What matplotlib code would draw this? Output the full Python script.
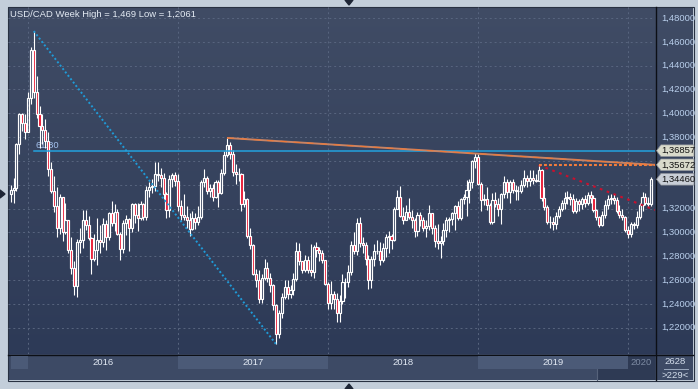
import matplotlib
matplotlib.use("Agg")
import matplotlib.pyplot as plt
import numpy as np
from matplotlib import transforms
from matplotlib.colors import LinearSegmentedColormap
from matplotlib.patches import Polygon, Rectangle

plt.rcParams["font.family"] = ["Liberation Sans", "DejaVu Sans"]

# ---- weekly USD/CAD candles, week of 2015-11-23 .. 2020-02-24 ----
first_open = 1.3320
close = [
    # 2015
    1.3355, 1.3370, 1.3740, 1.3990, 1.3920, 1.3840,
    # 2016
    1.4130, 1.4535, 1.4180, 1.3990, 1.3890, 1.3860, 1.3770, 1.3530, 1.3350, 1.3220,
    1.3040, 1.3300, 1.3000, 1.3100, 1.2850, 1.2700, 1.2550, 1.2920, 1.2940, 1.3100,
    1.3060, 1.2950, 1.2780, 1.2850, 1.2940, 1.2920, 1.3070, 1.2960, 1.3160, 1.3080,
    1.3170, 1.2990, 1.2860, 1.3080, 1.3110, 1.3040, 1.3240, 1.3150, 1.3120, 1.3240,
    1.3130, 1.3360, 1.3380, 1.3390, 1.3490, 1.3480, 1.3460, 1.3320, 1.3190, 1.3450,
    1.3480, 1.3430,
    # 2017
    1.3220, 1.3150, 1.3130, 1.3100, 1.3030, 1.3120, 1.3090, 1.3130, 1.3420, 1.3460,
    1.3350, 1.3370, 1.3300, 1.3420, 1.3330, 1.3500, 1.3650, 1.3730, 1.3660, 1.3510,
    1.3490, 1.3490, 1.3240, 1.3280, 1.2970, 1.2890, 1.2650, 1.2600, 1.2440, 1.2620,
    1.2700, 1.2620, 1.2560, 1.2390, 1.2150, 1.2320, 1.2460, 1.2540, 1.2480, 1.2520,
    1.2610, 1.2840, 1.2760, 1.2680, 1.2770, 1.2680, 1.2670, 1.2880, 1.2850, 1.2830,
    1.2770, 1.2570,
    # 2018
    1.2410, 1.2480, 1.2440, 1.2320, 1.2420, 1.2580, 1.2580, 1.2670, 1.2890, 1.2840,
    1.3080, 1.2910, 1.2890, 1.2780, 1.2600, 1.2780, 1.2840, 1.2840, 1.2770, 1.2870,
    1.2960, 1.2970, 1.2940, 1.3200, 1.3300, 1.3140, 1.3100, 1.3170, 1.3130, 1.3100,
    1.3010, 1.3150, 1.3100, 1.3040, 1.3050, 1.3160, 1.3040, 1.2930, 1.2910, 1.2930,
    1.3020, 1.3100, 1.3110, 1.3160, 1.3220, 1.3120, 1.3280, 1.3300, 1.3360, 1.3420,
    1.3600, 1.3630,
    # 2019
    1.3410, 1.3270, 1.3280, 1.3230, 1.3090, 1.3270, 1.3240, 1.3200, 1.3320, 1.3420,
    1.3340, 1.3420, 1.3360, 1.3350, 1.3350, 1.3400, 1.3460, 1.3430, 1.3460, 1.3440,
    1.3430, 1.3520, 1.3290, 1.3210, 1.3090, 1.3090, 1.3070, 1.3140, 1.3200, 1.3250,
    1.3290, 1.3300, 1.3280, 1.3180, 1.3260, 1.3240, 1.3280, 1.3250, 1.3310, 1.3290,
    1.3190, 1.3130, 1.3060, 1.3150, 1.3230, 1.3280, 1.3290, 1.3270, 1.3180, 1.3150,
    1.3130, 1.3020,
    # 2020
    1.2990, 1.3070, 1.3060, 1.3130, 1.3230, 1.3300, 1.3250, 1.3240, 1.3446,
]
high = [
    1.3400, 1.3460, 1.3750, 1.4005, 1.4000, 1.3990,
    1.4180, 1.4560, 1.4690, 1.4310, 1.4060, 1.3990, 1.3950, 1.3840, 1.3590, 1.3470,
    1.3380, 1.3320, 1.3300, 1.3250, 1.3100, 1.2960, 1.2760, 1.2945, 1.3040, 1.3190,
    1.3190, 1.3140, 1.2960, 1.2990, 1.3120, 1.3060, 1.3120, 1.3100, 1.3170, 1.3260,
    1.3240, 1.3200, 1.3000, 1.3100, 1.3150, 1.3120, 1.3250, 1.3250, 1.3250, 1.3260,
    1.3250, 1.3390, 1.3420, 1.3450, 1.3590, 1.3590, 1.3540, 1.3500, 1.3340, 1.3480,
    1.3500, 1.3510,
    1.3490, 1.3270, 1.3320, 1.3220, 1.3160, 1.3180, 1.3160, 1.3220, 1.3440, 1.3535,
    1.3470, 1.3410, 1.3410, 1.3440, 1.3440, 1.3530, 1.3680, 1.3793, 1.3760, 1.3690,
    1.3570, 1.3540, 1.3500, 1.3350, 1.3290, 1.3040, 1.2900, 1.2690, 1.2680, 1.2650,
    1.2780, 1.2750, 1.2660, 1.2570, 1.2400, 1.2350, 1.2490, 1.2600, 1.2600, 1.2560,
    1.2660, 1.2916, 1.2910, 1.2760, 1.2810, 1.2800, 1.2900, 1.2890, 1.2920, 1.2880,
    1.2850, 1.2770,
    1.2580, 1.2590, 1.2510, 1.2490, 1.2470, 1.2650, 1.2620, 1.2730, 1.2930, 1.3000,
    1.3120, 1.3125, 1.2960, 1.2920, 1.2810, 1.2800, 1.2900, 1.2940, 1.2920, 1.2910,
    1.2990, 1.3010, 1.2990, 1.3210, 1.3360, 1.3386, 1.3210, 1.3230, 1.3290, 1.3190,
    1.3120, 1.3170, 1.3170, 1.3130, 1.3100, 1.3230, 1.3160, 1.3060, 1.3070, 1.2970,
    1.3080, 1.3130, 1.3130, 1.3170, 1.3230, 1.3260, 1.3290, 1.3320, 1.3440, 1.3445,
    1.3610, 1.3665,
    1.3660, 1.3420, 1.3320, 1.3380, 1.3250, 1.3330, 1.3340, 1.3290, 1.3330, 1.3470,
    1.3450, 1.3440, 1.3450, 1.3400, 1.3390, 1.3440, 1.3520, 1.3480, 1.3520, 1.3520,
    1.3490, 1.3565, 1.3530, 1.3380, 1.3230, 1.3140, 1.3130, 1.3170, 1.3220, 1.3270,
    1.3340, 1.3350, 1.3330, 1.3320, 1.3290, 1.3280, 1.3300, 1.3310, 1.3340, 1.3350,
    1.3310, 1.3200, 1.3140, 1.3180, 1.3270, 1.3310, 1.3320, 1.3320, 1.3300, 1.3230,
    1.3200, 1.3140,
    1.3050, 1.3090, 1.3090, 1.3180, 1.3250, 1.3340, 1.3330, 1.3300, 1.3466,
]
low = [
    1.3255, 1.3250, 1.3350, 1.3660, 1.3850, 1.3780,
    1.3840, 1.4080, 1.4130, 1.3960, 1.3710, 1.3740, 1.3710, 1.3470, 1.3330, 1.3170,
    1.2960, 1.2990, 1.2930, 1.2990, 1.2830, 1.2650, 1.2470, 1.2461, 1.2830, 1.2870,
    1.3020, 1.2940, 1.2650, 1.2760, 1.2730, 1.2830, 1.2880, 1.2850, 1.2940, 1.3050,
    1.3010, 1.2980, 1.2765, 1.2830, 1.2980, 1.2840, 1.3000, 1.3080, 1.3010, 1.3100,
    1.3100, 1.3100, 1.3300, 1.3330, 1.3350, 1.3430, 1.3380, 1.3280, 1.3120, 1.3130,
    1.3380, 1.3390,
    1.3180, 1.3100, 1.3100, 1.3040, 1.2969, 1.3020, 1.3030, 1.3060, 1.3110, 1.3380,
    1.3320, 1.3300, 1.3260, 1.3290, 1.3210, 1.3320, 1.3480, 1.3630, 1.3620, 1.3470,
    1.3410, 1.3430, 1.3180, 1.3210, 1.2950, 1.2860, 1.2640, 1.2540, 1.2410, 1.2410,
    1.2600, 1.2580, 1.2500, 1.2350, 1.2061, 1.2110, 1.2280, 1.2440, 1.2440, 1.2450,
    1.2470, 1.2590, 1.2730, 1.2660, 1.2670, 1.2660, 1.2630, 1.2620, 1.2790, 1.2760,
    1.2740, 1.2560,
    1.2355, 1.2360, 1.2360, 1.2250, 1.2250, 1.2400, 1.2450, 1.2540, 1.2640, 1.2820,
    1.2810, 1.2880, 1.2830, 1.2730, 1.2527, 1.2530, 1.2720, 1.2820, 1.2730, 1.2750,
    1.2790, 1.2830, 1.2860, 1.2930, 1.3200, 1.3130, 1.3070, 1.3100, 1.3110, 1.3040,
    1.2960, 1.2970, 1.3050, 1.3010, 1.2960, 1.3020, 1.2990, 1.2880, 1.2860, 1.2782,
    1.2890, 1.2960, 1.3000, 1.3060, 1.3020, 1.3100, 1.3100, 1.3240, 1.3140, 1.3250,
    1.3370, 1.3540,
    1.3400, 1.3180, 1.3230, 1.3190, 1.3070, 1.3070, 1.3210, 1.3140, 1.3070, 1.3290,
    1.3290, 1.3250, 1.3330, 1.3270, 1.3270, 1.3330, 1.3380, 1.3380, 1.3390, 1.3410,
    1.3420, 1.3430, 1.3260, 1.3190, 1.3070, 1.3040, 1.3016, 1.3030, 1.3120, 1.3180,
    1.3200, 1.3240, 1.3230, 1.3160, 1.3160, 1.3180, 1.3200, 1.3210, 1.3230, 1.3250,
    1.3170, 1.3100, 1.3042, 1.3050, 1.3120, 1.3200, 1.3240, 1.3240, 1.3160, 1.3120,
    1.3100, 1.3000,
    1.2950, 1.2960, 1.3030, 1.3040, 1.3110, 1.3180, 1.3230, 1.3210, 1.3220,
]

years = ["2016", "2017", "2018", "2019", "2020"]
year_start = [6, 58, 110, 162, 214]          # candle index of first week of each year
y_ticks = [1.22, 1.24, 1.26, 1.28, 1.30, 1.32, 1.34, 1.36, 1.38, 1.40, 1.42, 1.44, 1.46, 1.48]

fib_level = 1.36857                            # 61.8% of the 2016 high -> 2017 low swing
trend_start = (75, 1.3793)                     # 2017 high
trend_end_value = 1.35672
red_start = (183, 1.3565)                      # 2019 high
red_end_value = 1.3188

assert len(close) == len(high) == len(low) == 223

c = np.array(close)
o = np.array([first_open] + close[:-1])
h = np.array(high)
l = np.array(low)
x = np.arange(len(c))

W, H = 698, 389
XMIN, XMAX = -0.93, 223.33
YMIN, YMAX = 1.19788, 1.48924

fig = plt.figure(figsize=(W / 100, H / 100), dpi=100)
fig.patch.set_facecolor("#c3ceda")

ax_bg = fig.add_axes([0, 0, 1, 1], zorder=0)
ax_bg.set_xlim(0, W)
ax_bg.set_ylim(H, 0)
ax_bg.axis("off")

# panel background gradient
cmap = LinearSegmentedColormap.from_list("bg", ["#404c65", "#2d3a57"])
grad = np.linspace(0, 1, 256).reshape(-1, 1)
ax_bg.imshow(grad, extent=(8, 693, 354, 7), aspect="auto", cmap=cmap, zorder=0)
ax_bg.add_patch(Rectangle((8, 354), 685, 26, facecolor="#3d4a65", edgecolor="none", zorder=1))
ax_bg.add_patch(Rectangle((7.5, 6.5), 686, 374, facecolor="none", edgecolor="#283142", lw=0.8, zorder=5))
ax_bg.plot([8, 693], [354.5, 354.5], color="#0c0f16", lw=1.0, zorder=5)
ax_bg.plot([655.5, 655.5], [7, 380], color="#0c0f16", lw=1.0, zorder=5)

# scroll markers
ax_bg.add_patch(Polygon([(345, 0), (353, 0), (349, 5)], closed=True, color="#1d2535", zorder=6))
ax_bg.add_patch(Polygon([(345, 389), (353, 389), (349, 384)], closed=True, color="#1d2535", zorder=6))
ax_bg.add_patch(Polygon([(0, 190), (0, 198), (5, 194)], closed=True, color="#1d2535", zorder=6))

ax_bg.text(10, 14, "USD/CAD Week High = 1,469 Low = 1,2061", color="#e4ebf4",
           fontsize=6.8, va="center", ha="left", zorder=6)

# counter box bottom-right
ax_bg.text(675, 362, "2628", color="#d4deec", fontsize=6.8, ha="center", va="center", zorder=6)
ax_bg.plot([664, 688], [368.5, 368.5], color="#9aa8bd", lw=0.7, zorder=6)
ax_bg.text(675, 375, ">229<", color="#d4deec", fontsize=6.8, ha="center", va="center", zorder=6)

# ---- main price axes ----
ax = fig.add_axes([8 / W, 1 - 354 / H, 647 / W, 347 / H], zorder=2)
ax.set_facecolor("none")
ax.set_xlim(XMIN, XMAX)
ax.set_ylim(YMIN, YMAX)
for s in ax.spines.values():
    s.set_visible(False)
ax.set_xticks([])
ax.set_yticks([])

grid_kw = dict(color="#58657f", lw=0.7, ls=(0, (2, 3)), zorder=0.5)
for t in y_ticks:
    ax.axhline(t, **grid_kw)
for ys in year_start:
    ax.axvline(ys, **grid_kw)

body_lo = np.minimum(o, c)
body_hi = np.maximum(o, c)
up = c >= o
ax.vlines(x, body_hi, h, color="white", lw=0.8, zorder=3)
ax.vlines(x, l, body_lo, color="white", lw=0.8, zorder=3)
ax.bar(x, body_hi - body_lo, bottom=body_lo, width=0.72,
       color=["none" if u else "#e8112d" for u in up],
       edgecolor="white", linewidth=0.85, zorder=4)

# fibonacci: peak -> trough dotted, 61.8% level
i_peak = int(np.argmax(h[:60]))
i_trough = int(np.argmin(l[:120]))
ax.plot([i_peak, i_trough], [h[i_peak], l[i_trough]], color="#1f9bd8", lw=1.4,
        ls=(0, (1, 1.2)), zorder=5)
ax.plot([i_peak, XMAX], [fib_level, fib_level], color="#22a2de", lw=1.1, zorder=5)
ax.text(i_peak + 0.7, fib_level + 0.0047, "61.80", color="#a4c2ee", fontsize=6.8,
        ha="left", va="center", zorder=2)

# resistance trendline + dotted lines from 2019 high
ax.plot([trend_start[0], XMAX], [trend_start[1], trend_end_value], color="#c98363",
        lw=1.4, zorder=5, solid_capstyle="butt")
ax.plot([trend_start[0], XMAX], [trend_start[1], trend_end_value], color="#ee7a3a",
        lw=0.8, ls=(0, (6, 6)), zorder=5.1)
ax.plot([red_start[0], XMAX], [red_start[1], red_start[1]], color="#f07c3c", lw=1.5,
        ls=(0, (1.4, 1.0)), zorder=5.2)
ax.plot([red_start[0], XMAX], [red_start[1], red_end_value], color="#c8102e", lw=1.5,
        ls=(0, (1.3, 2.2)), zorder=5)

# ---- right price scale (labels hidden behind the price tags are not drawn) ----
price_tags = [(fib_level, "#d9dacb"), (trend_end_value, "#d9dacb"), (c[-1], "#c9ced6")]
tag_vals = [v for v, _ in price_tags]
rt = transforms.blended_transform_factory(ax_bg.transData, ax.transData)
for t in y_ticks:
    if min(abs(t - v) for v in tag_vals) < 0.0075:
        continue
    ax_bg.text(661, t, f"{t:.5f}".replace(".", ","), transform=rt, color="#b9cfec",
               fontsize=6.8, ha="left", va="center", zorder=6)

for val, fc in price_tags:
    hh = 0.0049
    poly = Polygon([(656.5, val), (661, val + hh), (694, val + hh), (694, val - hh), (661, val - hh)],
                   closed=True, transform=rt, facecolor=fc, edgecolor="#8c9098", lw=0.5, zorder=7)
    ax_bg.add_patch(poly)
    ax_bg.text(661.5, val, f"{val:.5f}".replace(".", ","), transform=rt, color="#111111",
               fontsize=6.8, ha="left", va="center", zorder=8)

# ---- time band ----
ax_t = fig.add_axes([8 / W, 1 - 380 / H, 647 / W, 26 / H], zorder=1)
ax_t.set_facecolor("none")
ax_t.set_xlim(XMIN, XMAX)
ax_t.set_ylim(0, 1)
ax_t.axis("off")
bounds = [XMIN + 1] + year_start + [XMAX]
for k in range(len(bounds) - 1):
    if k % 2 == 0 and k < len(bounds) - 2:
        ax_t.add_patch(Rectangle((bounds[k], 0.42), bounds[k + 1] - bounds[k], 0.5,
                                 facecolor="#4b5a77", edgecolor="none"))
for k, yr in enumerate(years):
    x0 = year_start[k]
    x1 = year_start[k + 1] if k + 1 < len(year_start) else XMAX
    col = "#e2e9f3" if yr != "2020" else "#7d8ba3"
    ax_t.text((x0 + x1) / 2, 0.67, yr, color=col, fontsize=6.8, ha="center", va="center", zorder=3)

# dark scroll overlay on the right end of the time band
ax_bg.add_patch(Rectangle((597, 355), 58, 25, facecolor="#2e3a54", edgecolor="none", zorder=1.5))
ax_bg.plot([597, 597], [355, 380], color="#56627a", lw=0.8, zorder=1.6)

fig.savefig("out.png", dpi=100, facecolor=fig.get_facecolor())
